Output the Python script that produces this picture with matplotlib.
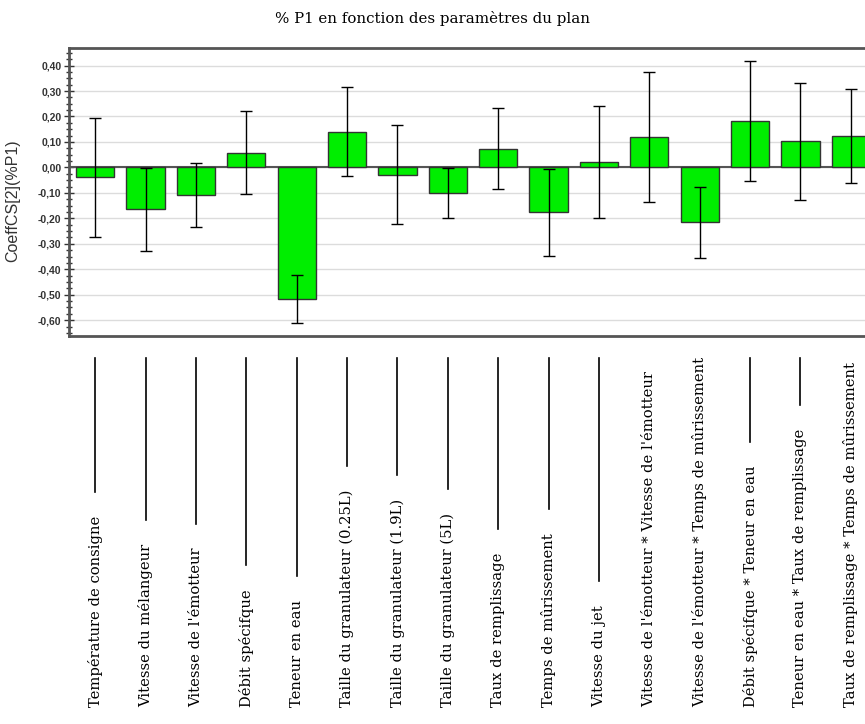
import numpy as np
from matplotlib import pyplot as plt
from matplotlib import ticker
from matplotlib.lines import Line2D
from matplotlib.transforms import blended_transform_factory

labels = [
    "Température de consigne",
    "Vitesse du mélangeur",
    "Vitesse de l'émotteur",
    "Débit spécifque",
    "Teneur en eau",
    "Taille du granulateur (0.25L)",
    "Taille du granulateur (1.9L)",
    "Taille du granulateur (5L)",
    "Taux de remplissage",
    "Temps de mûrissement",
    "Vitesse du jet",
    "Vitesse de l'émotteur * Vitesse de l'émotteur",
    "Vitesse de l'émotteur * Temps de mûrissement",
    "Débit spécifque * Teneur en eau",
    "Teneur en eau * Taux de remplissage",
    "Taux de remplissage * Temps de mûrissement",
]
coeffs = [-0.039, -0.165, -0.108, 0.057, -0.518, 0.141, -0.029, -0.102,
          0.074, -0.177, 0.021, 0.120, -0.216, 0.182, 0.102, 0.124]
conf_int = [0.235, 0.163, 0.124, 0.163, 0.094, 0.173, 0.195, 0.098,
            0.159, 0.172, 0.221, 0.256, 0.139, 0.236, 0.228, 0.185]

TITLE = "% P1 en fonction des paramètres du plan"
YLABEL = "CoeffCS[2](%P1)"

W, H = 865, 724


def main():
    fig = plt.figure(figsize=(W / 100, H / 100), dpi=100)
    fig.patch.set_facecolor("white")
    # axes run a bit past the right edge, like the cropped screenshot
    ax = fig.add_axes([69 / W, 1 - 336 / H, (877 - 69) / W, (336 - 48) / H])

    x = np.arange(len(coeffs))
    ax.set_axisbelow(True)
    ax.yaxis.grid(True, color="#dcdcdc", lw=1)
    ax.axhline(0, color="#555555", lw=1.5, zorder=2)
    ax.bar(x, coeffs, width=0.76, color="#00ee00", edgecolor="#333333",
           lw=1, zorder=3)
    ax.errorbar(x, coeffs, yerr=conf_int, fmt="none", ecolor="black",
                elinewidth=1, capsize=4.5, capthick=1, zorder=4)

    ax.set_xlim(-0.52, len(coeffs) - 0.48)
    ax.set_ylim(-0.662, 0.469)
    ax.set_xticks([])
    ax.yaxis.set_major_locator(ticker.MultipleLocator(0.1))
    ax.yaxis.set_minor_locator(ticker.AutoMinorLocator(4))
    ax.yaxis.set_major_formatter(
        ticker.FuncFormatter(lambda v, _: ("%.2f" % v).replace(".", ",").replace("-0,00", "0,00")))
    ax.tick_params(axis="y", which="major", direction="inout", length=7,
                   width=1, color="#333333", labelsize=7.5, pad=2)
    ax.tick_params(axis="y", which="minor", direction="inout", length=4,
                   width=1, color="#333333")
    for lab in ax.get_yticklabels():
        lab.set_family("Liberation Sans")
        lab.set_fontweight("bold")
        lab.set_color("#333333")
    for s in ax.spines.values():
        s.set_color("#555555")
        s.set_linewidth(2)

    ax.set_ylabel(YLABEL, family="Liberation Sans", fontsize=11.5, color="#333333")
    ax.yaxis.set_label_coords((20 - 69) / (877 - 69), (336 - 201) / (336 - 48))
    fig.text(0.5, 1 - 18 / H, TITLE, ha="center", va="center",
             family="DejaVu Serif", fontsize=10.8)

    # category labels at the bottom, rotated, with leader lines above them
    bt = blended_transform_factory(ax.transData, fig.transFigure)
    texts = []
    for i, lab in enumerate(labels):
        t = fig.text(x[i], 1 - 707 / H, lab, rotation=90, ha="center",
                     va="bottom", family="DejaVu Serif", fontsize=10.6,
                     transform=bt)
        texts.append(t)

    fig.canvas.draw()
    r = fig.canvas.get_renderer()
    for i, t in enumerate(texts):
        bb = t.get_window_extent(r)
        y_top = 1 - 358 / H
        y_end = (bb.y1 + 24) / H
        if y_top - y_end > 10 / H:
            xp = ax.transData.transform((x[i], 0))[0] / W
            fig.add_artist(Line2D([xp, xp], [y_end, y_top], color="black",
                                  lw=1.2, transform=fig.transFigure))

    plt.savefig("out.png", dpi=100)


if __name__ == "__main__":
    main()
